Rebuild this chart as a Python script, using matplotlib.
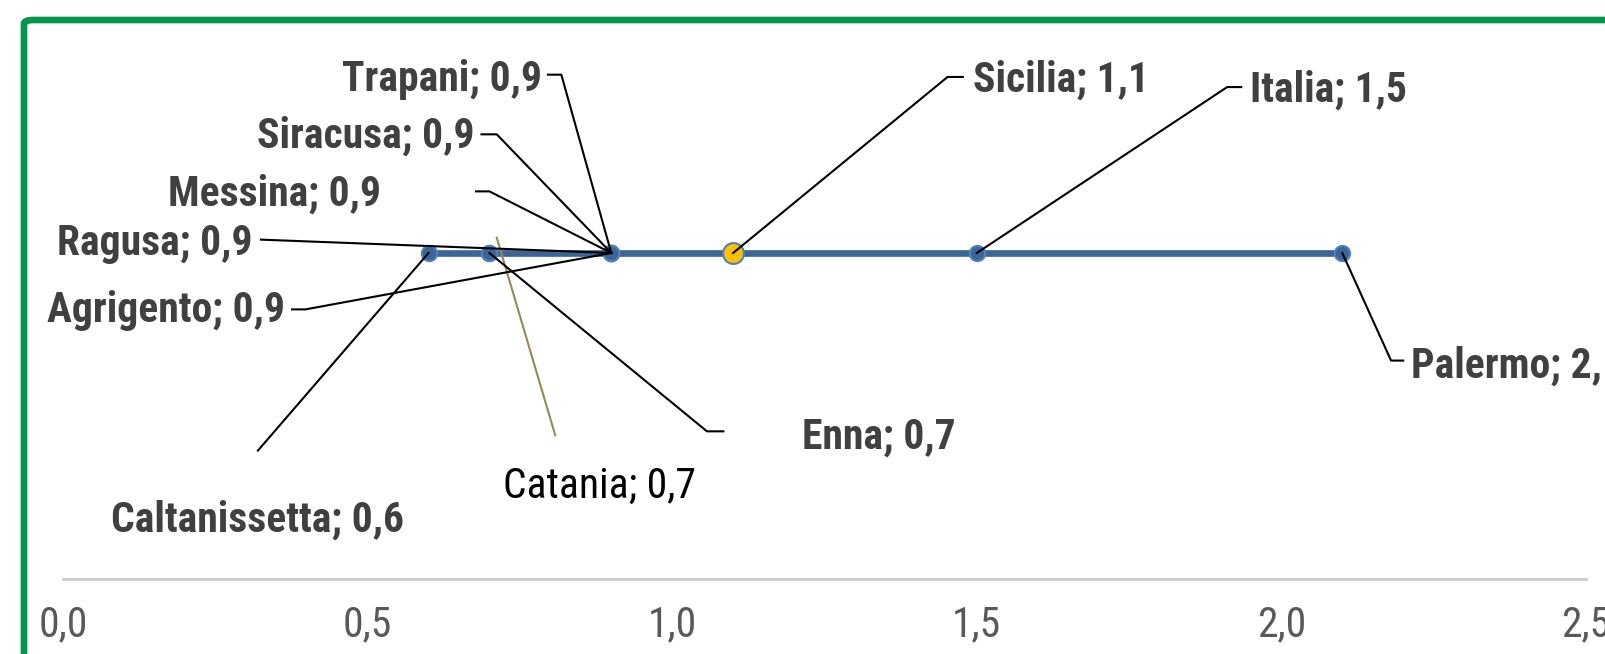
import matplotlib
matplotlib.use("Agg")
import matplotlib.pyplot as plt
from matplotlib import font_manager
from matplotlib.patches import FancyBboxPatch

# Indicatore per provincia, Sicilia e Italia
places = ['Caltanissetta', 'Catania', 'Enna', 'Agrigento', 'Ragusa', 'Messina',
          'Siracusa', 'Trapani', 'Sicilia', 'Italia', 'Palermo']
values = [0.6, 0.7, 0.7, 0.9, 0.9, 0.9, 0.9, 0.9, 1.1, 1.5, 2.1]
row = 1.0  # all points sit on one row

xticks = [0.0, 0.5, 1.0, 1.5, 2.0, 2.5]
xtick_labels = ['0,0', '0,5', '1,0', '1,5', '2,0', '2,5']

# label anchor (x, y, ha) and leader elbow points in data units
label_pos = {
    'Trapani':       (0.786, 1.531, 'right', [(0.796, 1.547), (0.818, 1.547)]),
    'Siracusa':      (0.676, 1.358, 'right', [(0.687, 1.364), (0.712, 1.364)]),
    'Messina':       (0.522, 1.182, 'right', [(0.678, 1.189), (0.700, 1.189)]),
    'Ragusa':        (0.311, 1.028, 'right', [(0.325, 1.041)]),
    'Agrigento':     (0.365, 0.824, 'right', [(0.376, 0.827), (0.398, 0.827)]),
    'Caltanissetta': (0.320, 0.180, 'center', [(0.320, 0.394)]),
    'Catania':       (0.880, 0.284, 'center', [(0.808, 0.441)]),
    'Enna':          (1.213, 0.435, 'left', [(1.084, 0.453), (1.057, 0.453)]),
    'Sicilia':       (1.494, 1.531, 'left', [(1.477, 1.540), (1.452, 1.540)]),
    'Italia':        (1.949, 1.500, 'left', [(1.934, 1.509), (1.911, 1.509)]),
    'Palermo':       (2.213, 0.654, 'left', [(2.200, 0.670), (2.180, 0.670)]),
}

names = {f.name for f in font_manager.fontManager.ttflist}
narrow = 'DejaVu Sans'
for cand in ['Liberation Sans Narrow', 'Roboto Condensed', 'Open Sans Condensed',
             'DejaVu Sans Condensed']:
    if cand in names:
        narrow = cand
        break

line_col = '#3A6596'
edge_col = '#4F81BD'

fig = plt.figure(figsize=(16.06, 6.54), dpi=100)
ax = fig.add_axes([63 / 1606, 1 - 579 / 654, 1523 / 1606, 489 / 654])

# green frame around the chart area
frame = FancyBboxPatch((24 / 1606, -0.1), 1.2, 1 - 20 / 654 + 0.1,
                       boxstyle='round,pad=0,rounding_size=0.006',
                       transform=fig.transFigure, fill=False,
                       edgecolor='#00964B', linewidth=4.8, clip_on=False)
fig.patches.append(frame)

xs = sorted(values)
ax.plot(xs, [row] * len(xs), color=line_col, linewidth=4.8, zorder=3,
        solid_capstyle='butt')
for name, v in zip(places, values):
    if name == 'Sicilia':
        ax.plot(v, row, 'o', ms=15, mfc='#FFC000', mec=edge_col, mew=1.5, zorder=5)
    else:
        ax.plot(v, row, 'o', ms=11, mfc=line_col, mec=edge_col, mew=1.5, zorder=4)

for name, v in zip(places, values):
    tx, ty, ha, elbow = label_pos[name]
    px = [p[0] for p in elbow] + [v]
    py = [p[1] for p in elbow] + [row]
    text = f'{name}; {v:.1f}'.replace('.', ',')
    if name == 'Catania':
        # this leader was dragged off the marker
        ax.plot([0.808, 0.712], [0.441, 1.047], color='#948A54', lw=1.5,
                zorder=6, clip_on=False)
        ax.text(tx, ty, text, ha=ha, va='center', fontsize=30, family=narrow,
                color='black', clip_on=False)
        continue
    ax.plot(px, py, color='black', lw=1.5, zorder=6, clip_on=False)
    ax.text(tx, ty, text, ha=ha, va='center', fontsize=30, fontweight='bold',
            family=narrow, color='#404040', clip_on=False)

ax.set_xlim(0, 2.5)
ax.set_ylim(0, 1.5)
ax.set_xticks(xticks)
ax.set_xticklabels(xtick_labels, family=narrow, fontsize=30, color='#595959')
ax.tick_params(axis='x', length=0, pad=18)
ax.set_yticks([])
for side in ['top', 'right', 'left']:
    ax.spines[side].set_visible(False)
ax.spines['bottom'].set_color('#D0D0D0')
ax.spines['bottom'].set_linewidth(2.2)
ax.patch.set_alpha(0)

fig.savefig('out.png', dpi=100)
